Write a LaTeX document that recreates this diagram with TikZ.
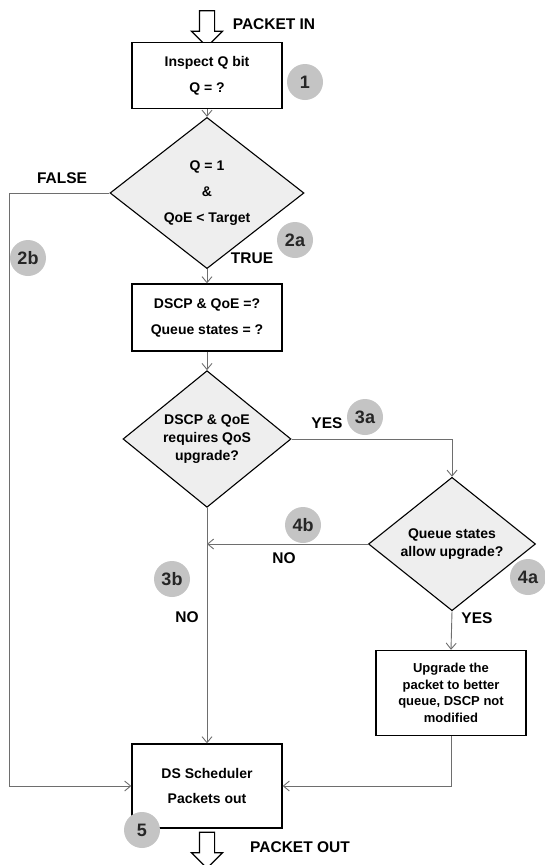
\documentclass[tikz,border=0pt]{standalone}
\usepackage{fontspec}
\setmainfont{Liberation Sans}
\usepackage{xcolor}
\definecolor{line-gray}{RGB}{110,110,110}
\definecolor{tag-gray}{RGB}{196,196,196}
\definecolor{test-fill}{RGB}{238,238,238}
\usetikzlibrary{shapes.geometric,shapes.arrows,arrows.meta}

\begin{document}
\begin{tikzpicture}[x=1pt, y=-1pt,
    proc box/.style={
        draw=black,
        line width=1.4pt,
        fill=white,
        minimum width=150pt,
        minimum height=66pt,
        inner sep=0pt,
        align=center,
        font=\fontsize{14pt}{26pt}\selectfont\bfseries
    },
    test diamond/.style={
        diamond,
        draw=black,
        line width=1.1pt,
        fill=test-fill,
        inner sep=0pt,
        align=center,
        font=\fontsize{14pt}{18pt}\selectfont\bfseries
    },
    tag num/.style={
        circle,
        fill=tag-gray,
        minimum size=36pt,
        inner sep=0pt,
        text=black!85,
        font=\fontsize{18pt}{18pt}\selectfont\bfseries
    },
    flow label/.style={
        font=\fontsize{15.5pt}{15.5pt}\selectfont\bfseries
    },
    io arrow/.style={
        single arrow,
        draw=black,
        line width=1.2pt,
        fill=white,
        rotate=-90,
        inner xsep=0pt,
        inner ysep=7pt,
        single arrow head extend=8pt,
        minimum height=36pt
    },
    arrow/.style={-{Straight Barb[length=6pt,width=10pt]}, line-gray, line width=0.9pt},
    link/.style={line-gray, line width=0.9pt}
]
\useasboundingbox (0,0) rectangle (545,865);

% Packet in
\node[io arrow] (pin) at (207,25) {};
\node[flow label] (pinlbl) at (274,24) {PACKET IN};

% Step 1 - Inspect Q bit
\node[proc box] (b1) at (207,75.5) {Inspect Q bit\\Q = ?};
\node[tag num] (t1) at (305,82) {1};

% Step 2 - Q and QoE test
\node[test diamond, minimum width=194pt, minimum height=114pt,
      font=\fontsize{14pt}{26pt}\selectfont\bfseries] (d1) at (207,193) {Q = 1\\\&\\QoE < Target};
\node[flow label] (lfalse) at (62,178) {FALSE};
\node[flow label] (ltrue) at (252,258) {TRUE};
\node[tag num] (t2a) at (295,240) {2a};
\node[tag num] (t2b) at (28,258) {2b};

% Step 2a - Read DSCP, QoE and queues
\node[proc box, minimum height=67pt] (b2) at (207,317.5) {DSCP \& QoE =?\\Queue states = ?};

% Step 3 - Upgrade needed?
\node[test diamond, minimum width=168pt, minimum height=104pt] (d2) at (207,439) {DSCP \& QoE\\requires QoS\\upgrade?};
\node[flow label] (lyes1) at (327,423) {YES};
\node[tag num] (t3a) at (365,417) {3a};
\node[tag num] (t3b) at (172,579) {3b};
\node[flow label] (lno2) at (187,617) {NO};

% Step 4 - Queue states test
\node[test diamond, minimum width=167pt, minimum height=106pt] (d3) at (452,544) {Queue states\\allow upgrade?};
\node[flow label] (lno1) at (284,558) {NO};
\node[tag num] (t4b) at (303,525) {4b};
\node[tag num] (t4a) at (528,577) {4a};
\node[flow label] (lyes2) at (477,618) {YES};

% Step 4a - Upgrade
\node[proc box, minimum height=85pt, font=\fontsize{13pt}{16.5pt}\selectfont\bfseries] (up) at (451,693) {Upgrade the\\packet to better\\queue, DSCP not\\modified};

% Step 5 - Scheduler
\node[proc box, minimum height=84pt, font=\fontsize{14pt}{25pt}\selectfont\bfseries] (b5) at (207,786) {DS Scheduler\\Packets out};
\node[io arrow] (pout) at (207,846.5) {};
\node[flow label] (poutlbl) at (300,847) {PACKET OUT};
\node[tag num] (t5) at (142,830) {5};

% Connectors
\coordinate (lside) at (9,193);
\coordinate (join) at (d2.south |- d3.west);
\draw[arrow] (b1.south) -- (d1.north);
\draw[arrow] (d1.south) -- (b2.north);
\draw[arrow] (b2.south) -- (d2.north);
\draw[arrow] (d2.east) -| (d3.north);
\draw[arrow] (d3.west) -- (join);
\draw[arrow] (d2.south) -- (b5.north);
\draw[arrow] (d3.south) -- (up.north);
\draw[arrow] (up.south) |- (b5.east);
\draw[arrow] (d1.west) -- (lside) |- (b5.west);

\end{tikzpicture}
\end{document}
